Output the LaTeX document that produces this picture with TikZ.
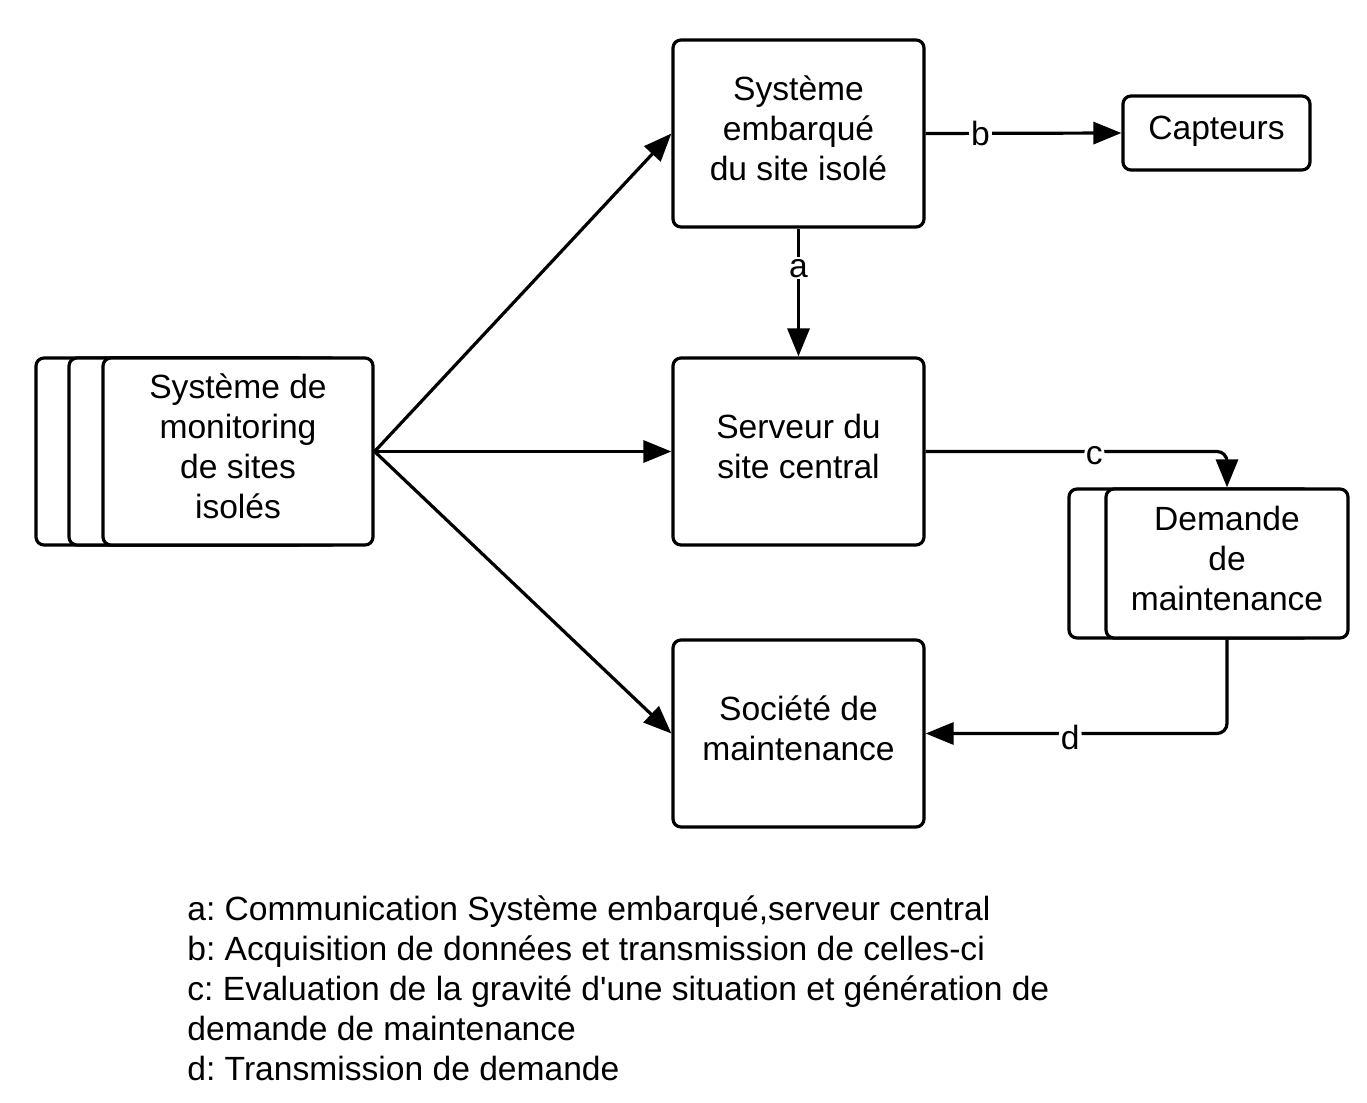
\documentclass[tikz,border=0pt]{standalone}
\usepackage{fontspec}
\newfontfamily\lib{Liberation Sans}
\usetikzlibrary{arrows.meta}
\frenchspacing
\begin{document}
\frenchspacing
\begin{tikzpicture}[x=0.5pt,y=-0.5pt,
  every node/.style={font=\lib\fontsize{16.8}{20}\selectfont},
  box/.style={draw, line width=1.6pt, rounded corners=4pt, fill=white, align=center, inner sep=0pt, text depth=5pt},
  bigbox/.style={box, minimum width=125.5pt, minimum height=93.5pt},
  monbox/.style={box, minimum width=135pt, minimum height=93.5pt},
  dembox/.style={box, minimum width=121pt, minimum height=74.5pt},
  conn/.style={line width=1.6pt, -{Triangle[length=14pt,width=11pt]}},
  lbl/.style={fill=white, inner sep=1pt}]
\useasboundingbox (0,0) rectangle (1367,1103);

\node[bigbox] (emb) at (798.5,133.5) {Système\\embarqué\\du site isolé};
\node[box, minimum width=93.5pt, minimum height=37pt] (cap) at (1216.5,133) {Capteurs};
\node[bigbox] (serv) at (798.5,451.5) {Serveur du\\site central};
\node[bigbox] (soc) at (798.5,733.5) {Société de\\maintenance};

\node[monbox] (mon3) at (171,451.5) {};
\node[monbox] (mon2) at (204,451.5) {};
\node[monbox] (mon) at (238,451.5) {Système de\\monitoring\\de sites\\isolés};

\node[dembox] (dem2) at (1190,563.5) {};
\node[dembox] (dem) at (1227,563.5) {Demande\\de\\maintenance};

\draw[conn] (mon.east) -- (emb.west);
\draw[conn] (mon.east) -- (serv.west);
\draw[conn] (mon.east) -- (soc.west);
\draw[conn] (emb.south) -- node[lbl,pos=0.31] (la) {a} (serv.north);
\draw[conn] (emb.east) -- node[lbl,pos=0.28] (lb) {b} (cap.west);
\draw[conn, rounded corners=5pt] (serv.east) -| node[lbl,pos=0.28,yshift=-2pt] (lc) {c} (dem.north);
\draw[conn, rounded corners=5pt] (dem.south) |- node[lbl,pos=0.76,yshift=-2pt] (ld) {d} (soc.east);

\node[anchor=base west, align=left, inner sep=0pt] (leg) at (187,1080)
{a: Communication Système embarqué,serveur central\\
b: Acquisition de données et transmission de celles-ci\\
c: Evaluation de la gravité d'une situation et génération de\\
demande de maintenance\\
d: Transmission de demande};
\end{tikzpicture}
\end{document}
